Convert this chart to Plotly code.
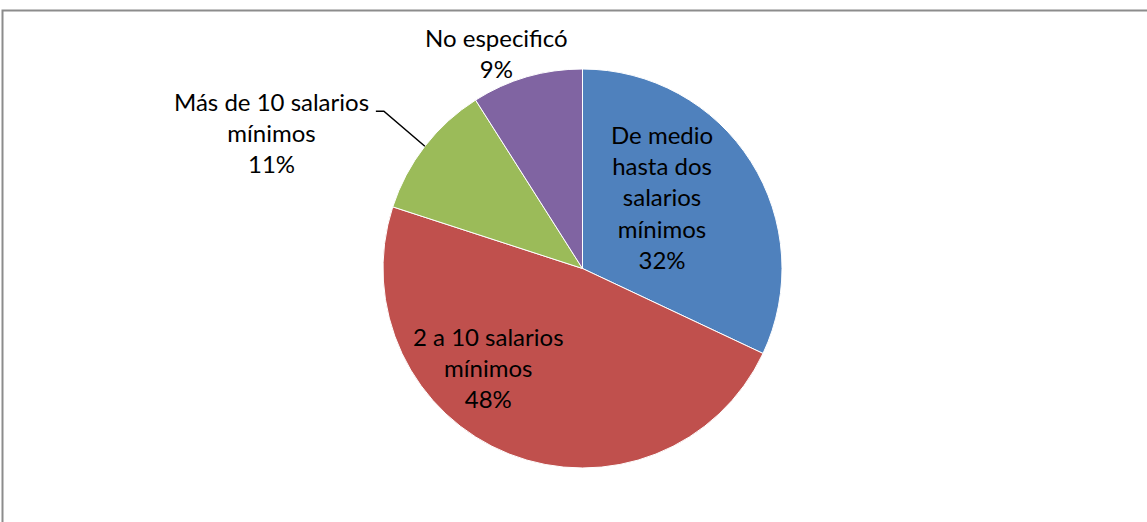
import math

import plotly.graph_objects as go

## datos del grafico
categorias = ["De medio hasta dos salarios mínimos", "2 a 10 salarios mínimos",
              "Más de 10 salarios mínimos", "No especificó"]
etiquetas = ["De medio<br>hasta dos<br>salarios<br>mínimos", "2 a 10 salarios<br>mínimos",
             "Más de 10 salarios<br>mínimos", "No especificó"]
porcentajes = [32, 48, 11, 9]
colores = ["#4F81BD", "#C0504D", "#9BBB59", "#8064A2"]

W, H = 1147, 522
cx, cy, r = 582.5, 268.5, 199.5
fuente = dict(family="Lato, Carlito, sans-serif", size=24, color="#000000")


def px_a_papel(x, y):
    return x / W, 1 - y / H


x0, y1 = px_a_papel(cx - r, cy - r)
x1, y0 = px_a_papel(cx + r, cy + r)

fig = go.Figure(go.Pie(
    labels=categorias,
    values=porcentajes,
    sort=False,
    direction="clockwise",
    rotation=0,
    marker=dict(colors=colores, line=dict(color="#ffffff", width=1)),
    textinfo="none",
    domain=dict(x=[x0, x1], y=[y0, y1]),
    showlegend=False,
    hoverinfo="label+percent",
))

## punto medio de cada rebanada en el borde (px)
total = sum(porcentajes)
acum = 0
bordes = []
for v in porcentajes:
    th = 2 * math.pi * (acum + v / 2) / total
    bordes.append((cx + r * math.sin(th), cy - r * math.cos(th)))
    acum += v

## linea guia para "Mas de 10 salarios"
ex_, ey_ = bordes[2]
codo = (ex_ - 41, ey_ - 35)
cola = (codo[0] - 8, codo[1])
pts = [px_a_papel(*p) for p in [(ex_, ey_), codo, cola]]
fig.add_shape(type="path", xref="paper", yref="paper",
              path="M {} {} L {} {} L {} {}".format(*[c for p in pts for c in p]),
              line=dict(color="#000000", width=1.5))

## centros de las etiquetas (px)
centros = [(662, 197), (488, 367), (271, 133), (496, 53)]
for txt, pct, (lx, ly) in zip(etiquetas, porcentajes, centros):
    px_, py_ = px_a_papel(lx, ly)
    fig.add_annotation(x=px_, y=py_, xref="paper", yref="paper", showarrow=False,
                       xanchor="center", yanchor="middle",
                       text=f"{txt}<br>{pct}%", font=fuente, align="center")

## borde del area del grafico (recortado)
bx, by = px_a_papel(2.5, 10.5)
fig.add_shape(type="rect", xref="paper", yref="paper",
              x0=bx, x1=1.1, y0=-0.1, y1=by,
              line=dict(color="#8c8c8c", width=2), fillcolor="rgba(0,0,0,0)")

fig.update_layout(width=W, height=H, margin=dict(l=0, r=0, t=0, b=0),
                  paper_bgcolor="#ffffff", plot_bgcolor="#ffffff")

# sin margen en el body para que la figura empiece en (0, 0)
fig.write_html("out.html", config={"displayModeBar": False},
               post_script="document.body.style.margin='0';")
